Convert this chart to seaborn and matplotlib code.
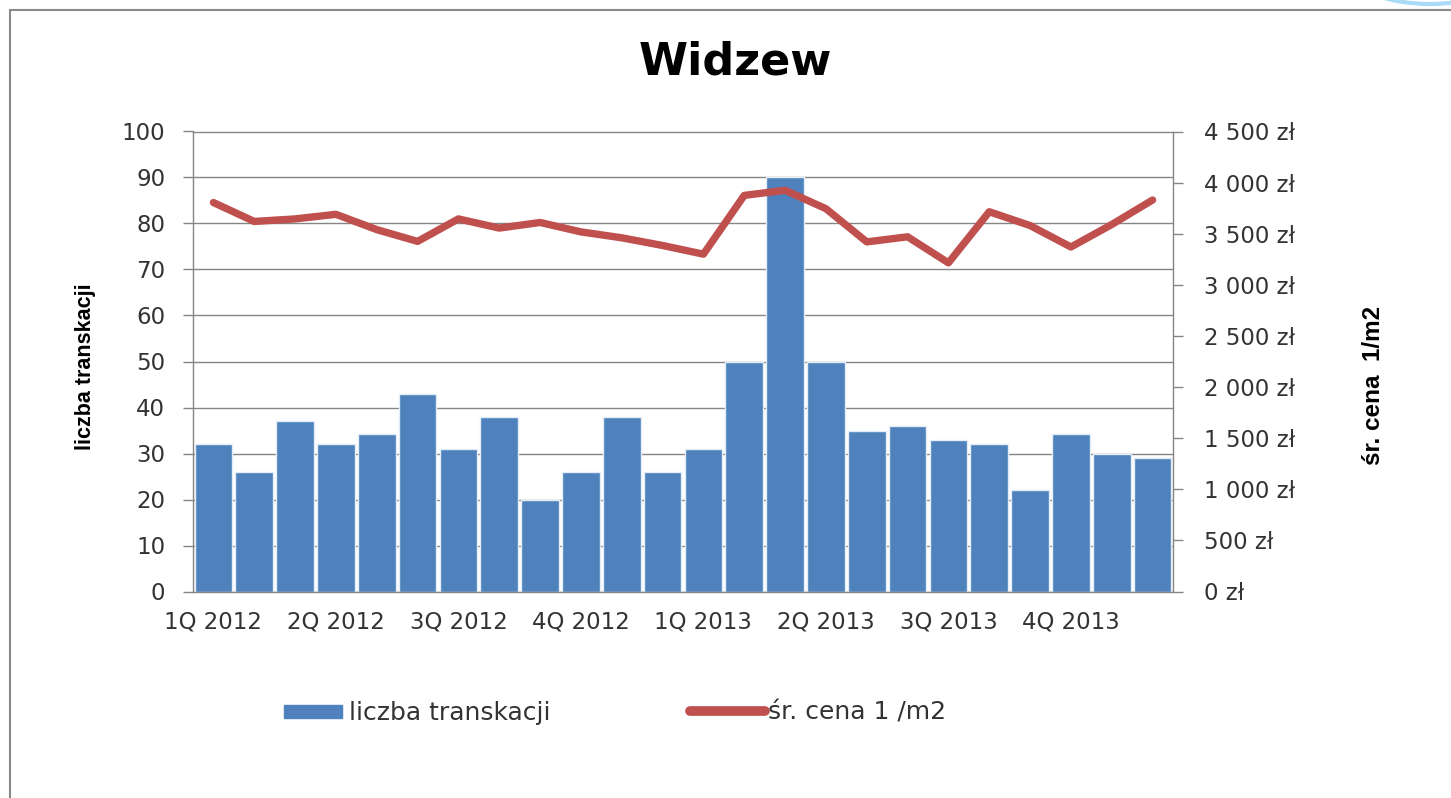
import numpy as np
import pandas as pd
import matplotlib
matplotlib.use("Agg")
import matplotlib.pyplot as plt
from matplotlib.patches import Patch, Rectangle, Ellipse
from matplotlib.lines import Line2D
from matplotlib.ticker import FuncFormatter, MultipleLocator
import seaborn as sns

# ---------------- data ----------------
months = ["01.2012", "02.2012", "03.2012", "04.2012", "05.2012", "06.2012",
          "07.2012", "08.2012", "09.2012", "10.2012", "11.2012", "12.2012",
          "01.2013", "02.2013", "03.2013", "04.2013", "05.2013", "06.2013",
          "07.2013", "08.2013", "09.2013", "10.2013", "11.2013", "12.2013"]
transactions = [32, 26, 37, 32, 34.3, 43, 31, 38, 20, 26, 38, 26,
                31, 50, 90, 50, 35, 36, 33, 32, 22, 34.3, 30, 29]
prices = [3805, 3620, 3645, 3690, 3540, 3425, 3645, 3555, 3610, 3518, 3460, 3385,
          3300, 3875, 3925, 3745, 3420, 3470, 3215, 3715, 3580, 3370, 3590, 3830]
quarter_labels = ["1Q 2012", "2Q 2012", "3Q 2012", "4Q 2012",
                  "1Q 2013", "2Q 2013", "3Q 2013", "4Q 2013"]
title = "Widzew"
left_label = "liczba transkacji"
right_label = "śr. cena  1/m2"
legend_bar = "liczba transkacji"
legend_line = "śr. cena 1 /m2"

BLUE = "#4F81BD"
RED = "#C0504D"
GRID = "#858585"
TXT = "#333333"

df = pd.DataFrame({"month": months, "count": transactions, "price": prices})
df["pos"] = np.arange(len(df))

sns.set_theme(style="white")
plt.rcParams["font.family"] = ["DejaVu Sans"]

W, H = 1451, 798
fig = plt.figure(figsize=(W / 100, H / 100), dpi=100)
fig.patch.set_facecolor("white")

ax = fig.add_axes([193 / W, 1 - 591.5 / H, (1173 - 193) / W, (591.5 - 131.5) / H])

sns.barplot(data=df, x="month", y="count", color=BLUE, saturation=1,
            width=0.92, edgecolor="#e3edf7", linewidth=1.0, ax=ax, zorder=2)
ax.set_xlim(-0.5, len(months) - 0.5)
ax.set_ylim(0, 100)
ax.yaxis.set_major_locator(MultipleLocator(10))
ax.set_axisbelow(True)
ax.grid(axis="y", color=GRID, linewidth=1.0)
ax.grid(axis="x", visible=False)

ax.set_xticks(np.arange(0, len(months), 3))
ax.set_xticklabels(quarter_labels)
ax.set_xticks(np.arange(-0.5, len(months), 1), minor=True)
ax.tick_params(axis="x", which="major", length=0, pad=14, labelsize=16.5, labelcolor=TXT)
ax.tick_params(axis="x", which="minor", length=5, width=1, color=GRID, direction="out")
ax.tick_params(axis="y", which="major", left=True, length=7, width=1, color=GRID,
               direction="out", pad=13, labelsize=16.5, labelcolor=TXT)
ax.set_xlabel("")
ax.set_ylabel("")

for side in ["left", "bottom", "top"]:
    ax.spines[side].set_visible(True)
    ax.spines[side].set_color(GRID)
    ax.spines[side].set_linewidth(1.0)
ax.spines["right"].set_visible(False)

ax2 = ax.twinx()
sns.lineplot(data=df, x="pos", y="price", color=RED, linewidth=5.3, ax=ax2,
             solid_capstyle="round", solid_joinstyle="round", zorder=3)
ax2.set_ylim(0, 4500)
ax2.yaxis.set_major_locator(MultipleLocator(500))
ax2.yaxis.set_major_formatter(FuncFormatter(lambda v, p: f"{int(v):,}".replace(",", " ") + " zł"))
ax2.tick_params(axis="y", right=True, length=7, width=1, color=GRID, direction="out",
                pad=15, labelsize=16.5, labelcolor=TXT)
ax2.set_xlabel("")
ax2.set_ylabel("")
ax2.grid(False)
for side in ["left", "bottom", "top"]:
    ax2.spines[side].set_visible(False)
ax2.spines["right"].set_visible(True)
ax2.spines["right"].set_color(GRID)
ax2.spines["right"].set_linewidth(1.0)
ax2.set_xlim(-0.5, len(months) - 0.5)

# titles / labels
fig.text(735 / W, 1 - 62 / H, title, ha="center", va="center",
         fontsize=32, fontweight="bold", color="black")
narrow = ["Liberation Sans Narrow", "Liberation Sans", "DejaVu Sans"]
fig.text(86 / W, 1 - 367 / H, left_label, rotation=90, ha="center", va="center",
         fontsize=15.5, fontweight="bold", family=narrow, color="black")
fig.text(1373 / W, 1 - 385 / H, right_label, rotation=90, ha="center", va="center",
         fontsize=17.5, fontweight="bold", family=narrow, color="black")

# legends
h1 = Patch(facecolor=BLUE, edgecolor=BLUE)
fig.legend(handles=[h1], labels=[legend_bar], loc="center left",
           bbox_to_anchor=(284 / W, 1 - 713 / H), frameon=False, fontsize=18,
           handlelength=2.3, handleheight=0.42, handletextpad=0.3,
           borderpad=0, borderaxespad=0, labelcolor=TXT)
h2 = Line2D([0], [0], color=RED, linewidth=7, solid_capstyle="round")
fig.legend(handles=[h2], labels=[legend_line], loc="center left",
           bbox_to_anchor=(690 / W, 1 - 713 / H), frameon=False, fontsize=18,
           handlelength=3.0, handletextpad=0.1,
           borderpad=0, borderaxespad=0, labelcolor=TXT)

# outer frame and decoration
fig.add_artist(Rectangle((10 / W, -0.02), 1.2, 1 - 10 / H + 0.02, transform=fig.transFigure,
                         fill=False, edgecolor="#8a8a8a", linewidth=1.5))
fig.add_artist(Ellipse((1430 / W, 1 + 25 / H), 150 / W, 58 / H, transform=fig.transFigure,
                       facecolor="white", edgecolor="#a9dbf7", linewidth=3))

fig.savefig("out.png", dpi=100, facecolor="white")
